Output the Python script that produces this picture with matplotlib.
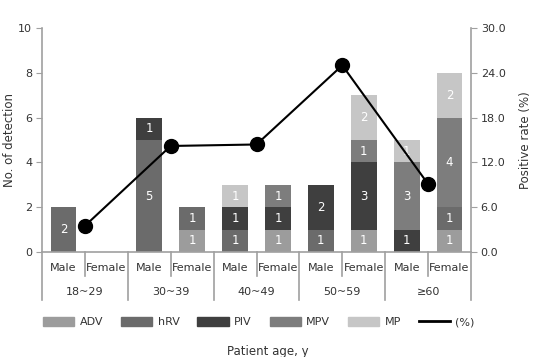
import matplotlib.pyplot as plt
from matplotlib.patches import Patch
from matplotlib.lines import Line2D
import numpy as np

sexes = ['Male', 'Female'] * 5
age_groups = ['18~29', '30~39', '40~49', '50~59', '≥60']

ADV = [0, 0, 0, 1, 0, 1, 0, 1, 0, 1]
hRV = [2, 0, 5, 1, 1, 0, 1, 0, 0, 1]
PIV = [0, 0, 1, 0, 1, 1, 2, 3, 1, 0]
MPV = [0, 0, 0, 0, 0, 1, 0, 1, 3, 4]
MP = [0, 0, 0, 0, 1, 0, 0, 2, 1, 2]
positive_rate = [3.5, 14.2, 14.4, 25.0, 9.1]

series = [('ADV', ADV, '#9c9c9c'), ('hRV', hRV, '#6b6b6b'),
          ('PIV', PIV, '#3f3f3f'), ('MPV', MPV, '#7d7d7d'),
          ('MP', MP, '#c6c6c6')]

axis_gray = '#a0a0a0'
text_gray = '#333333'
plt.rcParams['font.family'] = ['DejaVu Sans']

fig = plt.figure(figsize=(5.36, 3.57), dpi=100)
L, R, T, B = 42, 471, 28, 252
W, H = 536, 357
ax = fig.add_axes([L / W, (H - B) / H, (R - L) / W, (B - T) / H])

x = np.arange(len(sexes))
bottom = np.zeros(len(sexes))
for name, vals, col in series:
    vals = np.array(vals)
    ax.bar(x, vals, width=0.6, bottom=bottom, color=col, zorder=2)
    for xi, v, b in zip(x, vals, bottom):
        if v > 0:
            ax.text(xi, b + v / 2, str(v), ha='center', va='center',
                    color='white', fontsize=8.5, zorder=3)
    bottom += vals

ax.set_xlim(-0.5, len(sexes) - 0.5)
ax.set_ylim(0, 10)
ax.set_yticks(range(0, 11, 2))
ax.set_xticks([])
ax.tick_params(axis='y', direction='out', length=4, color=axis_gray,
               labelsize=8, labelcolor=text_gray, pad=3)
for s in ['top', 'right']:
    ax.spines[s].set_visible(False)
for s in ['left', 'bottom']:
    ax.spines[s].set_color(axis_gray)
    ax.spines[s].set_linewidth(1.2)
ax.set_ylabel('No. of detection', fontsize=8.5, color=text_gray)
ax.yaxis.set_label_coords((16 - L) / (R - L), 0.5)

ax2 = ax.twinx()
ax2.set_ylim(0, 30)
ax2.set_yticks(range(0, 31, 6))
ax2.set_yticklabels([f'{v:.1f}' for v in range(0, 31, 6)])
ax2.tick_params(axis='y', direction='out', length=4, color=axis_gray,
                labelsize=8, labelcolor=text_gray, pad=3)
for s in ['top', 'left', 'bottom']:
    ax2.spines[s].set_visible(False)
ax2.spines['right'].set_color(axis_gray)
ax2.spines['right'].set_linewidth(1.2)
ax2.set_ylabel('Positive rate (%)', fontsize=8.5, color=text_gray)
ax2.yaxis.set_label_coords((519 - L) / (R - L), 0.5)
line_x = np.arange(len(age_groups)) * 2 + 0.5
ax2.plot(line_x, positive_rate, color='black', lw=1.5, marker='o',
         markersize=10, zorder=4)

# category table below the axis
tr = ax.get_xaxis_transform()
px = 1.0 / (B - T)
sex_y = -16 * px
grp_y = -40 * px
short = -24 * px
long_ = -48 * px
for xi, s in zip(x, sexes):
    ax.text(xi, sex_y, s, ha='center', va='center', fontsize=8,
            color=text_gray, transform=tr)
for i, g in enumerate(age_groups):
    ax.text(2 * i + 0.5, grp_y, g, ha='center', va='center', fontsize=8,
            color=text_gray, transform=tr)
for i in range(len(sexes) + 1):
    xv = i - 0.5
    y1 = long_ if i % 2 == 0 else short
    ax.add_line(Line2D([xv, xv], [0, y1], transform=tr, color=axis_gray,
                       lw=1.2, clip_on=False))

handles = [Patch(color=c, label=n) for n, _, c in series]
handles.append(Line2D([0], [0], color='black', lw=2, label='(%)'))
fig.legend(handles=handles, loc='center', bbox_to_anchor=(259 / W, (H - 322) / H),
           ncol=6, frameon=False, fontsize=8, handlelength=2.8,
           handleheight=0.9, columnspacing=1.6, handletextpad=0.5,
           labelcolor=text_gray)
fig.text(0.5, (H - 351) / H, 'Patient age, y', ha='center', va='center',
         fontsize=8.5, color=text_gray)

fig.savefig('out.png', dpi=100)
